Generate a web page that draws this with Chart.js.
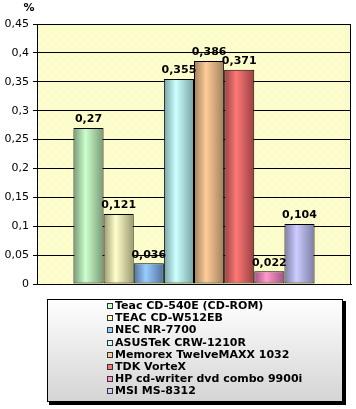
<!DOCTYPE html>
<html>
<head>
<meta charset="utf-8">
<script src="https://cdn.jsdelivr.net/npm/chart.js@4/dist/chart.umd.min.js"></script>
<style>
html,body{margin:0;padding:0;background:#fff;}
#wrap{width:356px;height:409px;position:relative;}
</style>
</head>
<body>
<div id="wrap"><canvas id="c" width="356" height="409"></canvas></div>
<script>
const categories = [''];
const seriesNames = [
  'Teac CD-540E (CD-ROM)',
  'TEAC CD-W512EB',
  'NEC NR-7700',
  'ASUSTeK CRW-1210R',
  'Memorex TwelveMAXX 1032',
  'TDK VorteX',
  'HP cd-writer dvd combo 9900i',
  'MSI MS-8312'
];
const seriesValues = [0.27, 0.121, 0.036, 0.355, 0.386, 0.371, 0.022, 0.104];
const valueLabels = ['0,27', '0,121', '0,036', '0,355', '0,386', '0,371', '0,022', '0,104'];
const tickLabels = ['0', '0,05', '0,1', '0,15', '0,2', '0,25', '0,3', '0,35', '0,4', '0,45'];
const unitLabel = '%';

const peakColors = ['#CCFFCC', '#FFFFCC', '#99CCFF', '#CCFFFF', '#FFCC99', '#FF7777', '#FF99CC', '#CCCCFF'];
const edgeColors = ['#779977', '#99996F', '#4F6F9A', '#78A2A2', '#A0805A', '#984040', '#A05282', '#7C7CA4'];

const FONT = 'DejaVu Sans';

function ditherPattern(ctx) {
  const p = document.createElement('canvas');
  p.width = 2; p.height = 2;
  const g = p.getContext('2d');
  g.fillStyle = '#FFFFFF'; g.fillRect(0, 0, 2, 2);
  g.fillStyle = '#FFFF99'; g.fillRect(0, 0, 1, 1); g.fillRect(1, 1, 1, 1);
  return ctx.createPattern(p, 'repeat');
}

const plotBg = {
  id: 'plotBg',
  beforeDraw(chart) {
    const {ctx, chartArea: a} = chart;
    ctx.save();
    ctx.fillStyle = ditherPattern(ctx);
    ctx.fillRect(a.left, a.top, a.right - a.left, a.bottom - a.top);
    ctx.restore();
  },
  beforeDatasetsDraw(chart) {
    const {ctx, chartArea: a} = chart;
    ctx.save();
    ctx.strokeStyle = '#000';
    ctx.lineWidth = 1;
    ctx.strokeRect(Math.round(a.left) + 0.5, Math.round(a.top) + 0.5,
      Math.round(a.right - a.left) - 1, Math.round(a.bottom - a.top));
    ctx.restore();
    chart.data.datasets.forEach((ds, i) => {
      const meta = chart.getDatasetMeta(i);
      meta.data.forEach(el => {
        const p = el.getProps(['x', 'width'], true);
        const l = p.x - p.width / 2;
        const g = ctx.createLinearGradient(l, 0, l + p.width, 0);
        g.addColorStop(0, edgeColors[i]);
        g.addColorStop(0.4, peakColors[i]);
        g.addColorStop(1, edgeColors[i]);
        el.options = Object.assign({}, el.options, {backgroundColor: g});
      });
    });
  },
  afterDatasetsDraw(chart) {
    const {ctx} = chart;
    ctx.save();
    ctx.font = 'bold 11px "' + FONT + '"';
    ctx.fillStyle = '#000';
    ctx.textAlign = 'center';
    ctx.textBaseline = 'bottom';
    chart.data.datasets.forEach((ds, i) => {
      const meta = chart.getDatasetMeta(i);
      meta.data.forEach(el => {
        const p = el.getProps(['x', 'y'], true);
        ctx.fillText(valueLabels[i], p.x, p.y - 3);
      });
    });
    ctx.font = 'bold 11px "' + FONT + '"';
    ctx.textAlign = 'center';
    ctx.textBaseline = 'middle';
    ctx.fillText(unitLabel, 29, 8);
    ctx.restore();
  },
  afterDraw(chart) {
    const {ctx} = chart;
    const L = 47, T = 299, R = 343, B = 402;
    ctx.save();
    ctx.fillStyle = '#000';
    ctx.fillRect(L + 2, T + 2, R - L + 1, B - T + 1);
    const g = ctx.createLinearGradient(0, T, 0, B);
    g.addColorStop(0, '#FFFFFF');
    g.addColorStop(1, '#D4D4D4');
    ctx.fillStyle = g;
    ctx.fillRect(L, T, R - L, B - T);
    ctx.strokeStyle = '#000';
    ctx.lineWidth = 1;
    ctx.strokeRect(L + 0.5, T + 0.5, R - L - 1, B - T - 1);
    ctx.font = 'bold 11px "' + FONT + '"';
    ctx.textAlign = 'left';
    ctx.textBaseline = 'middle';
    seriesNames.forEach((name, i) => {
      const y = Math.round(306 + i * 12.2);
      ctx.fillStyle = peakColors[i];
      ctx.fillRect(107, y - 3, 6, 6);
      ctx.strokeStyle = '#333';
      ctx.strokeRect(107.5, y - 2.5, 5, 5);
      ctx.fillStyle = '#000';
      ctx.fillText(name, 115, y + 0.5);
    });
    ctx.restore();
  }
};

new Chart(document.getElementById('c'), {
  type: 'bar',
  data: {
    labels: categories,
    datasets: seriesNames.map((n, i) => ({
      label: n,
      data: [seriesValues[i]],
      backgroundColor: peakColors[i],
      borderColor: '#000',
      borderWidth: 1,
      borderSkipped: false,
      categoryPercentage: 0.768,
      barPercentage: 1
    }))
  },
  options: {
    responsive: false,
    animation: false,
    devicePixelRatio: 1,
    layout: {padding: {left: 0, top: 24, right: 5, bottom: 125}},
    plugins: {legend: {display: false}, tooltip: {enabled: false}},
    scales: {
      x: {
        grid: {display: false},
        border: {display: true, color: '#000'},
        ticks: {display: false},
        afterFit(s) { s.height = 0; }
      },
      y: {
        min: 0, max: 0.45,
        ticks: {
          stepSize: 0.05,
          color: '#000',
          font: {family: FONT, size: 11},
          padding: 4,
          callback: (v, i) => tickLabels[i]
        },
        grid: {color: '#000', lineWidth: 1, tickLength: 4, drawTicks: true},
        border: {display: true, color: '#000'},
        afterFit(s) { s.width = 37; }
      }
    }
  },
  plugins: [plotBg]
});
</script>
</body>
</html>
